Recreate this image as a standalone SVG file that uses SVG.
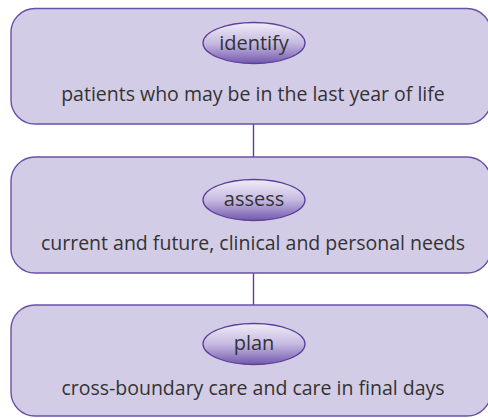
<svg xmlns="http://www.w3.org/2000/svg" width="488" height="418" viewBox="0 0 488 418">
<defs>
<linearGradient id="eg" x1="0" y1="0" x2="0" y2="1">
<stop offset="0" stop-color="#f0ecf8"/>
<stop offset="0.5" stop-color="#c6bae1"/>
<stop offset="1" stop-color="#7459ae"/>
</linearGradient>
<style>
.box{fill:#d3cce6;stroke:#6a50a6;stroke-width:1.4}
.pill{fill:url(#eg);stroke:#5c3f9a;stroke-width:1.3}
.conn{stroke:#5c3f9a;stroke-width:1.4;fill:none}
.txt{font-family:"Open Sans","Noto Sans","Liberation Sans",sans-serif;font-size:19.5px;fill:#333333;text-anchor:middle}
.lbl{font-family:"Open Sans","Noto Sans","Liberation Sans",sans-serif;font-size:20px;fill:#333333;text-anchor:middle}
</style>
</defs>
<g id="connectors">
<line class="conn" x1="253.5" y1="124" x2="253.5" y2="157"/>
<line class="conn" x1="253.5" y1="273" x2="253.5" y2="305"/>
</g>
<g id="identify">
<rect class="box" x="11" y="8.5" width="480" height="115.5" rx="24"/>
<ellipse class="pill" cx="254" cy="43" rx="51" ry="20.5"/>
<text class="lbl" x="254" y="50">identify</text>
<text class="txt" x="253" y="101">patients who may be in the last year of life</text>
</g>
<g id="assess">
<rect class="box" x="11" y="157" width="480" height="116" rx="24"/>
<ellipse class="pill" cx="254" cy="200" rx="51" ry="20.5"/>
<text class="lbl" x="254" y="206">assess</text>
<text class="txt" x="253" y="250">current and future, clinical and personal needs</text>
</g>
<g id="plan">
<rect class="box" x="11" y="305" width="480" height="111" rx="24"/>
<ellipse class="pill" cx="254" cy="344" rx="51" ry="20.5"/>
<text class="lbl" x="254" y="350">plan</text>
<text class="txt" x="253" y="395">cross-boundary care and care in final days</text>
</g>
</svg>
